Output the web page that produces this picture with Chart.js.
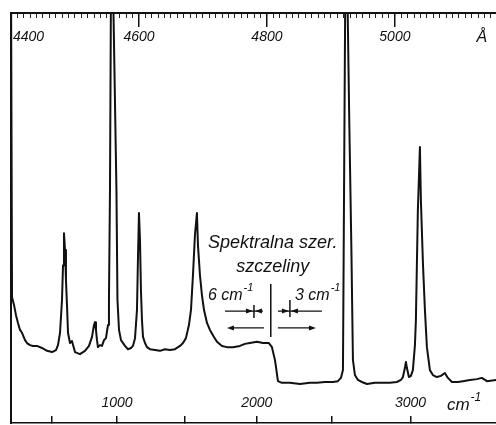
<!DOCTYPE html>
<html><head><meta charset="utf-8">
<script src="https://cdn.jsdelivr.net/npm/chart.js@4.4.1/dist/chart.umd.min.js"></script>
<style>html,body{margin:0;padding:0;background:#fff}#wrap{width:496px;height:425px;position:relative}</style>
</head><body><div id="wrap"><canvas id="c"></canvas></div>
<script>
// Spectrum: wavelength (Å) and relative intensity (0 = bottom axis, 100 = top ruler)
const wavelength = [4400,4401.6,4404.7,4407.8,4410.9,4414.1,4417.2,4421.9,4425.0,4429.7,4434.4,4440.6,4448.4,4456.3,4464.1,4470.3,4473.4,4476.6,4479.7,4481.3,4482.8,4484.4,4485.9,4487.5,4489.1,4492.2,4495.3,4500.0,4507.8,4515.6,4521.9,4526.6,4529.7,4531.3,4532.8,4534.4,4535.9,4539.1,4542.2,4545.3,4548.4,4551.6,4553.1,4554.7,4557.0,4564.8,4566.4,4568.8,4571.9,4578.1,4582.8,4587.5,4590.6,4593.8,4596.9,4598.4,4600.0,4601.6,4603.1,4604.7,4606.3,4609.4,4612.5,4617.2,4625.0,4632.8,4640.6,4648.4,4656.3,4664.1,4668.8,4673.4,4678.1,4681.3,4684.4,4687.5,4690.6,4692.2,4695.3,4698.4,4701.6,4706.3,4710.9,4717.2,4721.9,4729.7,4737.5,4746.9,4757.8,4765.6,4773.4,4784.4,4793.8,4803.1,4807.8,4812.5,4814.1,4817.2,4823.4,4835.9,4851.6,4867.2,4878.1,4890.6,4903.1,4910.9,4915.6,4918.8,4919.5,4921.1,4923.4,4928.9,4932.0,4934.4,4937.5,4942.2,4948.4,4956.3,4968.8,4981.3,4992.2,5003.1,5009.4,5012.5,5015.6,5017.2,5018.8,5021.9,5025.0,5028.1,5031.3,5032.8,5034.4,5035.9,5039.1,5040.6,5043.8,5046.9,5050.0,5054.7,5059.4,5065.6,5071.9,5078.1,5082.8,5089.1,5098.4,5106.3,5117.2,5128.1,5135.9,5143.8,5158];
const intensity = [110,30.7,28.8,26.3,24.4,22.7,22.0,20.2,19.5,19.0,18.8,18.8,18.3,17.6,17.3,17.8,19.0,22.0,30.0,38.5,46.3,42.2,34.9,28.8,22.0,19.5,20.0,17.3,16.8,17.6,18.8,21.0,23.9,24.6,22.7,20.2,18.5,19.0,18.8,20.2,20.7,23.9,30.0,56.8,130,56.8,30.0,22.7,20.2,18.8,18.0,18.3,18.8,20.7,27.6,39.8,51.2,44.6,32.4,25.1,21.0,19.5,18.5,18.0,17.8,17.6,18.0,17.8,18.0,18.8,19.5,20.7,23.9,27.6,36.1,45.9,51.2,43.4,36.1,31.2,27.6,24.4,22.7,21.0,19.8,18.8,18.5,18.5,18.8,19.3,19.5,19.8,19.5,19.5,18.5,15.4,13.7,10.2,9.8,9.8,9.5,9.8,9.8,10.0,10.0,10.2,11.0,12.9,30.0,71.5,130,71.5,42.2,15.4,11.7,10.5,10.0,9.5,9.8,9.8,9.8,10.0,10.5,11.2,13.4,14.9,13.4,11.2,11.5,12.9,19.0,25.1,39.0,52.0,67.3,54.4,39.0,27.6,18.5,12.9,11.7,11.2,11.5,12.2,11.0,10.0,10.0,10.2,10.5,10.7,11.0,10.2,10.5];

// Axes
const angstromMin = 4400, angstromMax = 5158, angstromMinorStep = 10;
const angstromLabels = [4400, 4600, 4800, 5000];
const ramanShiftTicks = [500, 1000, 1500, 2000, 2500, 3000];
const ramanShiftLabels = ['', '1000', '', '2000', '', '3000'];
const excitationWavenumber = 22903; // cm^-1, used to place shift ticks on the Å scale

const tickFont = {family: '"Liberation Sans", Arial, sans-serif', size: 14, style: 'italic'};
function noPad(s){ s.paddingLeft = 0; s.paddingRight = 0; s.paddingTop = 0; s.paddingBottom = 0; }

const annot = {
  id: 'annot',
  afterDraw(chart) {
    const ctx = chart.ctx, xs = chart.scales.xMinor, ys = chart.scales.y;
    const X = v => xs.getPixelForValue(v), Y = v => ys.getPixelForValue(v);
    const fam = '"Liberation Sans", Arial, sans-serif';
    ctx.save();
    ctx.fillStyle = '#111'; ctx.strokeStyle = '#111';
    ctx.textAlign = 'center'; ctx.textBaseline = 'middle';
    ctx.font = 'italic 18px ' + fam;
    ctx.fillText('Spektralna szer.', X(4809), Y(43.9));
    ctx.fillText('szczeliny', X(4809), Y(38.0));
    ctx.textBaseline = 'alphabetic'; ctx.textAlign = 'left';
    function supText(main, sup, lam, inten, size) {
      const x = X(lam), y = Y(inten);
      ctx.font = 'italic ' + size + 'px ' + fam;
      ctx.fillText(main, x, y);
      const w = ctx.measureText(main).width;
      ctx.font = 'italic ' + Math.round(size * 0.7) + 'px ' + fam;
      ctx.fillText(sup, x + w + 1, y - size * 0.55);
    }
    supText('6 cm', '-1', 4707.8, 30.0, 16);
    supText('3 cm', '-1', 4843.8, 30.0, 16);
    supText('cm', '-1', 5081.3, 3.2, 17);
    ctx.font = 'italic 16px ' + fam; ctx.textAlign = 'center';
    ctx.fillText('Å', X(5136), Y(92.9));

    function line(x1, y1, x2, y2, w) { ctx.lineWidth = w; ctx.beginPath(); ctx.moveTo(x1, y1); ctx.lineTo(x2, y2); ctx.stroke(); }
    function head(xt, y, dir) { ctx.beginPath(); ctx.moveTo(xt, y); ctx.lineTo(xt - dir * 7, y - 2.5); ctx.lineTo(xt - dir * 7, y + 2.5); ctx.closePath(); ctx.fill(); }
    // divider
    line(X(4806), Y(33.9), X(4806), Y(21.0), 1.5);
    // upper slit markers
    const yu = Y(27.3);
    line(X(4734.4), yu, X(4793.8), yu, 1.2);
    const b1 = X(4779.7);
    line(b1, yu - 6, b1, yu + 7, 1.5);
    head(b1 - 1, yu, 1); head(b1 + 1, yu, -1);
    line(X(4817.2), yu, X(4885.9), yu, 1.2);
    const b2 = X(4835.9);
    line(b2, yu - 11, b2, yu + 6, 1.5);
    head(b2 - 1, yu, 1); head(b2 + 1, yu, -1);
    // lower direction arrows
    const yl = Y(23.2);
    line(X(4795.3), yl, X(4737.5) + 4, yl, 1.2); head(X(4737.5), yl, -1);
    line(X(4817.2), yl, X(4876.6) - 4, yl, 1.2); head(X(4876.6), yl, 1);
    ctx.restore();
  }
};

new Chart(document.getElementById('c'), {
  type: 'line',
  data: {
    datasets: [{
      data: wavelength.map((w, i) => ({x: w, y: intensity[i]})),
      xAxisID: 'xMinor', yAxisID: 'y',
      borderColor: '#111', borderWidth: 2, pointRadius: 0, tension: 0,
      borderJoinStyle: 'round', borderCapStyle: 'round', fill: false
    }]
  },
  options: {
    responsive: true, maintainAspectRatio: false, animation: false,
    layout: {padding: 0},
    plugins: {legend: {display: false}, tooltip: {enabled: false}},
    scales: {
      xMinor: {
        type: 'linear', position: 'top', weight: 1, min: angstromMin, max: angstromMax,
        afterBuildTicks: s => { const t = []; for (let v = angstromMin; v <= angstromMax; v += angstromMinorStep) t.push({value: v}); s.ticks = t; },
        ticks: {display: false},
        grid: {drawOnChartArea: false, drawTicks: true, tickLength: -5, color: '#222', lineWidth: 1},
        border: {display: true, color: '#111', width: 2},
        afterFit: s => { s.height = 13; noPad(s); }
      },
      xMajor: {
        type: 'linear', position: 'top', weight: 0, min: angstromMin, max: angstromMax,
        afterBuildTicks: s => { s.ticks = angstromLabels.map(v => ({value: v})); },
        ticks: {display: true, mirror: true, autoSkip: false, maxRotation: 0, color: '#111', font: tickFont, padding: 15.6,
          callback: (v) => v === angstromMin ? '         ' + v : String(v)},
        grid: {drawOnChartArea: false, drawTicks: true, tickLength: -14, color: '#111', lineWidth: 1.5},
        border: {display: false},
        afterFit: s => { s.height = 0; noPad(s); }
      },
      xBottom: {
        type: 'linear', position: 'bottom', min: angstromMin, max: angstromMax,
        afterBuildTicks: s => { s.ticks = ramanShiftTicks.map(k => ({value: 1e8 / (excitationWavenumber - k)})); },
        ticks: {display: true, mirror: true, autoSkip: false, maxRotation: 0, color: '#111', font: tickFont, padding: 11.6,
          callback: (v, i) => ramanShiftLabels[i]},
        grid: {drawOnChartArea: false, drawTicks: true, tickLength: -7, color: '#111', lineWidth: 1.5},
        border: {display: true, color: '#111', width: 1.5},
        afterFit: s => { s.height = 2; noPad(s); }
      },
      y: {
        type: 'linear', position: 'left', min: 0, max: 100,
        ticks: {display: false},
        grid: {drawOnChartArea: false, drawTicks: false},
        border: {display: true, color: '#111', width: 2},
        afterFit: s => { s.width = 11; noPad(s); }
      }
    }
  },
  plugins: [annot]
});
</script>
</body></html>
